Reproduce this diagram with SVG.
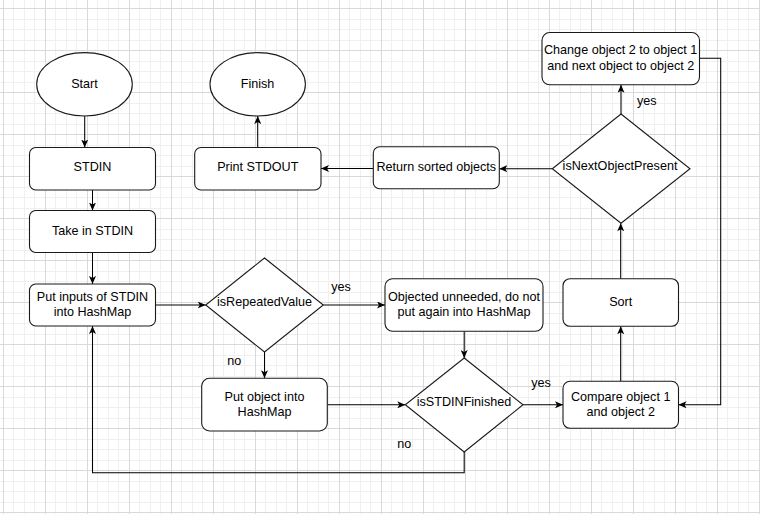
<svg xmlns="http://www.w3.org/2000/svg" width="760" height="514" viewBox="0 0 760 514">
<style>
.shape{fill:#ffffff;stroke:#1a1a1a;stroke-width:1.1}
.edge{fill:none;stroke:#000000;stroke-width:1.05}
.lbl{font-family:"Liberation Sans",Arial,Helvetica,sans-serif;font-size:12.6px;fill:#000000;text-anchor:middle}
</style>
<defs>
<pattern id="grid" patternUnits="userSpaceOnUse" x="3" y="8" width="42" height="42">
<rect width="42" height="42" fill="#ffffff"/>
<path d="M10.5,0V42M21.5,0V42M31.5,0V42M0,11.5H42M0,21.5H42M0,32.5H42" stroke="#f0f0f0" stroke-width="1"/>
<path d="M0.5,0V42M0,0.5H42" stroke="#d9d9d9" stroke-width="1"/>
</pattern>
<marker id="arr" viewBox="0 0 8 7" refX="8" refY="3.5" markerWidth="8" markerHeight="7" markerUnits="userSpaceOnUse" orient="auto">
<path d="M0,0 L8,3.5 L0,7 L2,3.5 Z" fill="#000000"/>
</marker>
</defs>
<rect width="760" height="514" fill="url(#grid)"/>

<g id="connectors">
<path class="edge" d="M84.7,116 V147.5" marker-end="url(#arr)"/>
<path class="edge" d="M92.5,190 V210.5" marker-end="url(#arr)"/>
<path class="edge" d="M92.5,252.5 V284" marker-end="url(#arr)"/>
<path class="edge" d="M155.5,305 H205.7" marker-end="url(#arr)"/>
<path class="edge" d="M323.3,305 H385" marker-end="url(#arr)"/>
<path class="edge" d="M264.5,352 V378.3" marker-end="url(#arr)"/>
<path class="edge" d="M464.2,331.3 V358" marker-end="url(#arr)"/>
<path class="edge" d="M327.3,404.8 H405.3" marker-end="url(#arr)"/>
<path class="edge" d="M523,404.8 H563" marker-end="url(#arr)"/>
<path class="edge" d="M464.2,452 V472.7 H92.5 V326" marker-end="url(#arr)"/>
<path class="edge" d="M620.7,381.3 V326.3" marker-end="url(#arr)"/>
<path class="edge" d="M620.7,278.7 V223.3" marker-end="url(#arr)"/>
<path class="edge" d="M621,114 V84.8" marker-end="url(#arr)"/>
<path class="edge" d="M699.5,58.3 H720.7 V404.8 H678.5" marker-end="url(#arr)"/>
<path class="edge" d="M552.3,168.7 H499.3" marker-end="url(#arr)"/>
<path class="edge" d="M373.3,168.5 H321" marker-end="url(#arr)"/>
<path class="edge" d="M257.7,147.5 V116" marker-end="url(#arr)"/>
<text class="lbl" x="646.7" y="104.7">yes</text>
<text class="lbl" x="341" y="291">yes</text>
<text class="lbl" x="234.3" y="365">no</text>
<text class="lbl" x="541" y="386.7">yes</text>
<text class="lbl" x="404.3" y="448">no</text>
</g>

<g id="start">
<ellipse class="shape" cx="84.5" cy="84.3" rx="47.8" ry="31.7"/>
<text class="lbl" x="84.5" y="87.8">Start</text>
</g>
<g id="finish">
<ellipse class="shape" cx="257.7" cy="84.3" rx="47.7" ry="31.7"/>
<text class="lbl" x="257.5" y="87.8">Finish</text>
</g>
<g id="stdin">
<rect class="shape" x="29.5" y="147.5" width="126" height="42.5" rx="6.3"/>
<text class="lbl" x="92.5" y="171.2">STDIN</text>
</g>
<g id="take-in-stdin">
<rect class="shape" x="29.5" y="210.5" width="126" height="42" rx="6.3"/>
<text class="lbl" x="92.5" y="234.5">Take in STDIN</text>
</g>
<g id="put-inputs">
<rect class="shape" x="29.5" y="284" width="126" height="42" rx="6.3"/>
<text class="lbl" x="92.5" y="300.5">Put inputs of STDIN</text>
<text class="lbl" x="92.5" y="316.2">into HashMap</text>
</g>
<g id="print-stdout">
<rect class="shape" x="194.7" y="147.5" width="126.3" height="42.5" rx="6.3"/>
<text class="lbl" x="257.8" y="171.2">Print STDOUT</text>
</g>
<g id="return-sorted">
<rect class="shape" x="373.3" y="146.7" width="126" height="42" rx="6.3"/>
<text class="lbl" x="436.3" y="170.5">Return sorted objects</text>
</g>
<g id="is-next-object-present">
<polygon class="shape" points="621,114 690,168.7 621,223.3 552.3,168.7"/>
<text class="lbl" x="620" y="169.5">isNextObjectPresent</text>
</g>
<g id="change-object">
<rect class="shape" x="542" y="32.5" width="157.5" height="52.3" rx="7.8"/>
<text class="lbl" x="620.7" y="53.8">Change object 2 to object 1</text>
<text class="lbl" x="620.7" y="69.7">and next object to object 2</text>
</g>
<g id="sort">
<rect class="shape" x="563" y="278.7" width="115.5" height="47.6" rx="7"/>
<text class="lbl" x="620.7" y="305.5">Sort</text>
</g>
<g id="compare">
<rect class="shape" x="563" y="381.3" width="115.5" height="47" rx="7"/>
<text class="lbl" x="620.7" y="400.5">Compare object 1</text>
<text class="lbl" x="620.7" y="416.2">and object 2</text>
</g>
<g id="objected-unneeded">
<rect class="shape" x="385" y="278.7" width="158" height="52.6" rx="7.8"/>
<text class="lbl" x="464" y="300.5">Objected unneeded, do not</text>
<text class="lbl" x="464" y="316.2">put again into HashMap</text>
</g>
<g id="is-stdin-finished">
<polygon class="shape" points="464.2,358 523,404.8 464.2,452 405.3,404.8"/>
<text class="lbl" x="464" y="406.2">isSTDINFinished</text>
</g>
<g id="is-repeated-value">
<polygon class="shape" points="264.5,258 323.3,305 264.5,352 205.7,305"/>
<text class="lbl" x="264.5" y="306.2">isRepeatedValue</text>
</g>
<g id="put-object">
<rect class="shape" x="201.7" y="378.3" width="125.6" height="52.7" rx="7.8"/>
<text class="lbl" x="264.5" y="401.2">Put object into</text>
<text class="lbl" x="264.5" y="416.2">HashMap</text>
</g>
</svg>
